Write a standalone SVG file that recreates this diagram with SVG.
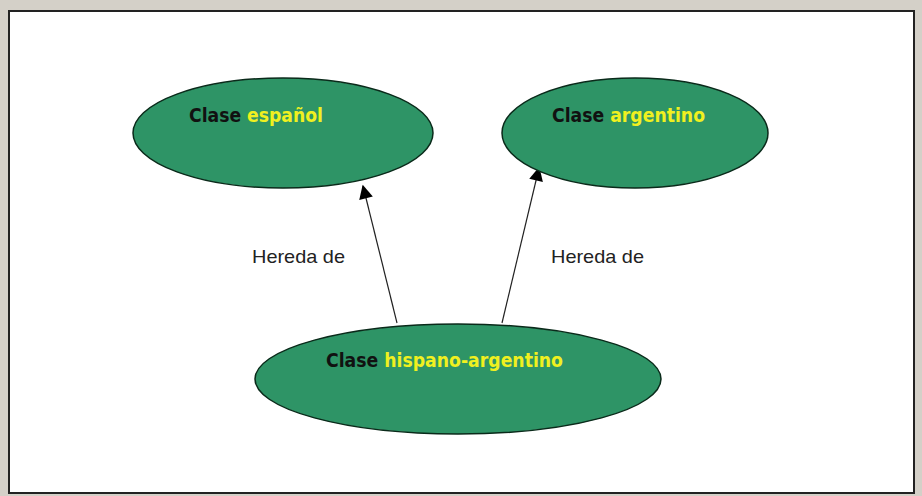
<svg xmlns="http://www.w3.org/2000/svg" width="922" height="496" viewBox="0 0 922 496">
<style>
.n{fill:#2e9466;stroke:#0a2a1a;stroke-width:1.5}
.t{font-family:"DejaVu Sans Condensed","DejaVu Sans",sans-serif;font-size:19px;font-weight:bold}
.k{fill:#111}
.y{fill:#f0f020}
.l{font-family:"Liberation Sans",Arial,sans-serif;font-size:19px;fill:#222}
.c{stroke:#222;stroke-width:1.2;fill:none;marker-end:url(#a)}
</style>
<defs><marker id="a" viewBox="0 0 10 10" refX="9" refY="5" markerWidth="16" markerHeight="14" markerUnits="userSpaceOnUse" orient="auto"><path d="M0,0L10,5L0,10z" fill="#000"/></marker></defs>
<rect width="922" height="496" fill="#d4d0c8"/>
<rect x="9" y="11" width="905" height="482" fill="#fff" stroke="#222" stroke-width="2"/>
<g id="connectors">
<line class="c" x1="397" y1="323" x2="363" y2="186"/>
<text class="l" x="252" y="263" textLength="93" lengthAdjust="spacingAndGlyphs">Hereda de</text>
<line class="c" x1="502" y1="323" x2="539" y2="168"/>
<text class="l" x="551" y="263" textLength="93" lengthAdjust="spacingAndGlyphs">Hereda de</text>
</g>
<g id="espanol"><ellipse class="n" cx="283" cy="133" rx="150" ry="55"/><text class="t" x="189" y="122" textLength="134" lengthAdjust="spacingAndGlyphs"><tspan class="k">Clase </tspan><tspan class="y">español</tspan></text></g>
<g id="argentino"><ellipse class="n" cx="635" cy="133" rx="133" ry="55"/><text class="t" x="552" y="122" textLength="153" lengthAdjust="spacingAndGlyphs"><tspan class="k">Clase </tspan><tspan class="y">argentino</tspan></text></g>
<g id="hispano"><ellipse class="n" cx="458" cy="379" rx="203" ry="55"/><text class="t" x="326" y="367" textLength="237" lengthAdjust="spacingAndGlyphs"><tspan class="k">Clase </tspan><tspan class="y">hispano-argentino</tspan></text></g>
</svg>
